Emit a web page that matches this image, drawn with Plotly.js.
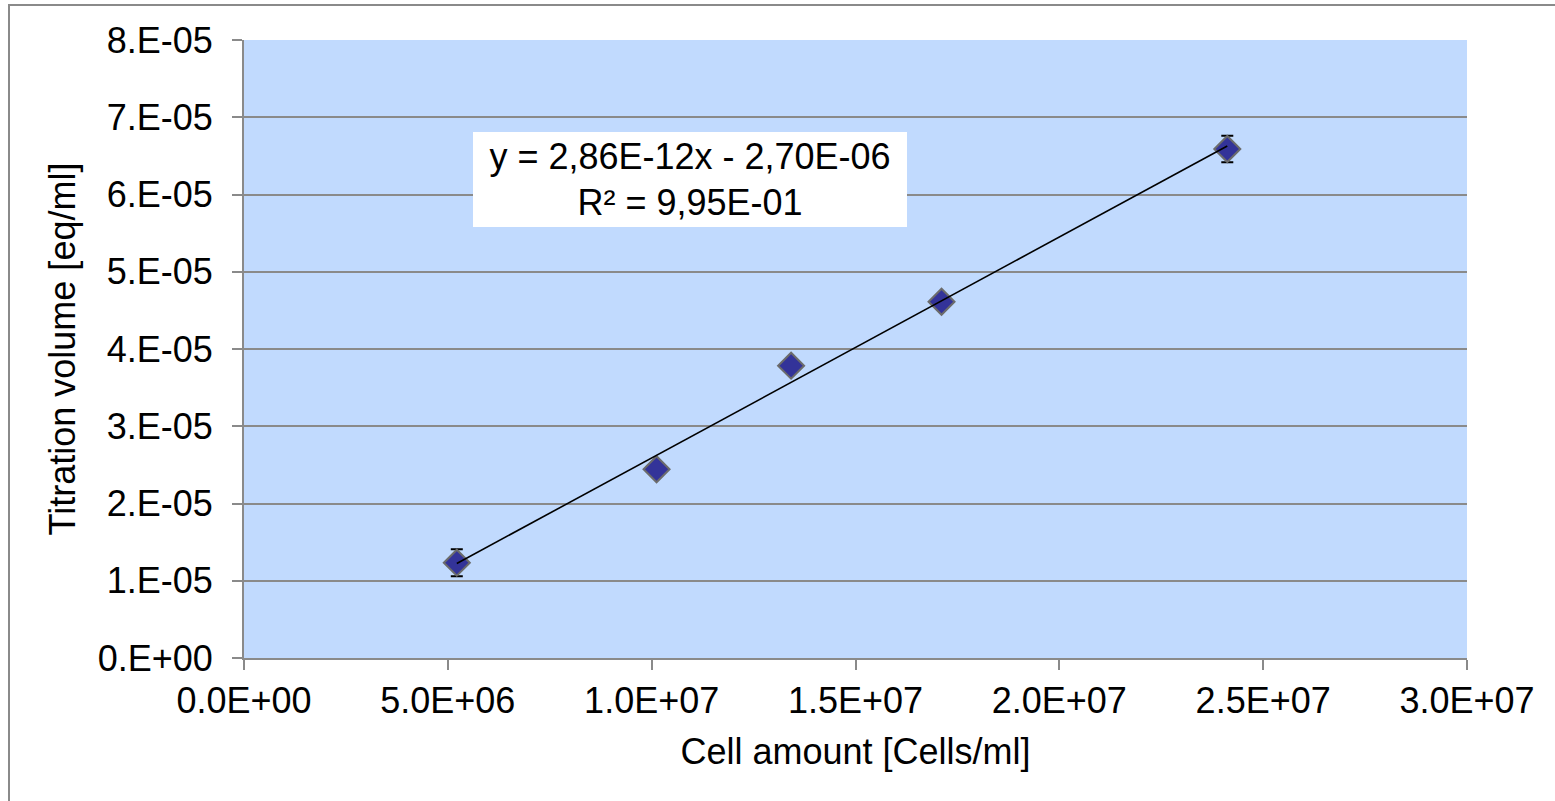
<!DOCTYPE html>
<html>
<head>
<meta charset="utf-8">
<script src="https://cdn.plot.ly/plotly-3.0.1.min.js"></script>
<style>
html,body{margin:0;padding:0;background:#fff;}
#chart{width:1555px;height:801px;}
</style>
</head>
<body>
<div id="chart"></div>
<script>
// Data
const cellAmount = [5.22e6, 1.012e7, 1.342e7, 1.711e7, 2.412e7];
const titrationVolume = [1.234e-5, 2.443e-5, 3.784e-5, 4.612e-5, 6.589e-5];
const titrationError = [1.75e-6, 0.5e-6, 0.5e-6, 0.5e-6, 1.7e-6];
const fitSlope = 2.86e-12;
const fitIntercept = -2.70e-6;
const fitLabel = "y = 2,86E-12x - 2,70E-06<br>R² = 9,95E-01";

const xTickVals = [0, 5e6, 1e7, 1.5e7, 2e7, 2.5e7, 3e7];
const xTickText = ["0.0E+00", "5.0E+06", "1.0E+07", "1.5E+07", "2.0E+07", "2.5E+07", "3.0E+07"];
const yTickVals = [0, 1e-5, 2e-5, 3e-5, 4e-5, 5e-5, 6e-5, 7e-5, 8e-5];
const yTickText = ["0.E+00", "1.E-05", "2.E-05", "3.E-05", "4.E-05", "5.E-05", "6.E-05", "7.E-05", "8.E-05"];

const xTitle = "Cell amount [Cells/ml]";
const yTitle = "Titration volume [eq/ml]";

// Trendline built from the fitted equation over the data range
const fitX = [Math.min(...cellAmount), Math.max(...cellAmount)];
const fitY = fitX.map(v => fitSlope * v + fitIntercept);

const FONT = "Liberation Sans, Arial, sans-serif";
const fs = 36;

// plot area pixels
const L = 244, R = 1467, T = 40, B = 658, W = 1555, H = 801;
const px2x = p => (p - L) / (R - L);
const py2y = p => (B - p) / (B - T);

const traces = [
  {
    x: cellAmount, y: titrationVolume, type: "scatter", mode: "markers",
    marker: {symbol: "diamond", size: 20, color: "#333399", line: {color: "#6b6b6b", width: 2}},
    error_y: {type: "data", array: titrationError, visible: true, color: "#000", thickness: 2, width: 6},
    showlegend: false, hoverinfo: "x+y"
  },
  {
    x: fitX, y: fitY, type: "scatter", mode: "lines",
    line: {color: "#000", width: 1.6}, showlegend: false, hoverinfo: "skip"
  }
];

const layout = {
  width: W, height: H,
  margin: {l: L, r: W - R, t: T, b: H - B, pad: 0},
  paper_bgcolor: "#ffffff",
  plot_bgcolor: "#C1DAFE",
  font: {family: FONT, size: fs, color: "#000"},
  xaxis: {
    range: [0, 3e7], tickvals: xTickVals, ticktext: xTickText,
    showgrid: false, zeroline: false, showline: true, linecolor: "#8a8a8a", linewidth: 2,
    ticks: "outside", ticklen: 10, tickwidth: 2, tickcolor: "#8a8a8a",
    tickfont: {family: FONT, size: fs, color: "#000"},
    title: {text: xTitle, font: {family: FONT, size: fs, color: "#000"}, standoff: 19},
    fixedrange: true
  },
  yaxis: {
    range: [0, 8e-5], tickvals: yTickVals, ticktext: yTickText,
    showgrid: true, gridcolor: "#8a8a8a", gridwidth: 2,
    zeroline: false, showline: true, linecolor: "#8a8a8a", linewidth: 2,
    ticks: "outside", ticklen: 10, tickwidth: 2, tickcolor: "#8a8a8a",
    ticklabelstandoff: 12,
    tickfont: {family: FONT, size: fs, color: "#000"},
    title: {text: yTitle, font: {family: FONT, size: fs, color: "#000"}, standoff: 11},
    fixedrange: true
  },
  annotations: [{
    x: 1.094e7, y: 6.19e-5, xref: "x", yref: "y",
    text: fitLabel, showarrow: false, align: "center",
    font: {family: FONT, size: fs, color: "#000"},
    bgcolor: "#ffffff", borderpad: 0, borderwidth: 0, width: 434, height: 95
  }],
  shapes: [{
    type: "rect", xref: "paper", yref: "paper",
    x0: px2x(9), x1: px2x(1570), y0: py2y(820), y1: py2y(5),
    line: {color: "#8a8a8a", width: 2}, fillcolor: "rgba(0,0,0,0)", layer: "below"
  }]
};

Plotly.newPlot("chart", traces, layout, {displayModeBar: false, staticPlot: true});
</script>
</body>
</html>
